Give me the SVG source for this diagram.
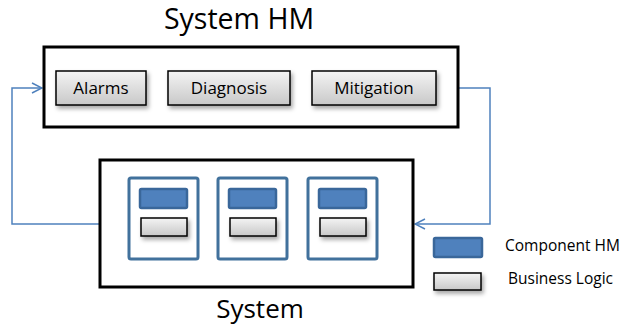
<svg xmlns="http://www.w3.org/2000/svg" width="631" height="326" viewBox="0 0 631 326">
<defs>
<linearGradient id="gray" x1="0" y1="0" x2="0" y2="1">
<stop offset="0" stop-color="#f4f4f4"/><stop offset="1" stop-color="#c8c8c8"/>
</linearGradient>
<filter id="sh" x="-20%" y="-20%" width="150%" height="180%">
<feDropShadow dx="2" dy="3" stdDeviation="2" flood-color="#000" flood-opacity="0.35"/>
</filter>
<marker id="arr" markerWidth="12" markerHeight="12" refX="11" refY="6" orient="auto" markerUnits="userSpaceOnUse">
<path d="M1,1 L11,6 L1,11" fill="none" stroke="#4F81BD" stroke-width="1.5"/>
</marker>
</defs>
<style>
.frame{fill:#fff;stroke:#000;stroke-width:3}
.btn{fill:url(#gray);stroke:#000;stroke-width:1.5;filter:url(#sh)}
.comp{fill:#fff;stroke:#41719C;stroke-width:3}
.hm{fill:#4F81BD;stroke:#3A679A;stroke-width:2.5}
.conn{fill:none;stroke:#4F81BD;stroke-width:1.5}
.t{font-family:"Open Sans","Liberation Sans",sans-serif;fill:#000}
</style>
<g id="title-hm"><text class="t" x="239" y="29" font-size="28.5" text-anchor="middle">System HM</text></g>
<g id="connectors">
<path class="conn" d="M100,224 L12,224 L12,88 L42,88" marker-end="url(#arr)"/>
<path class="conn" d="M459,88 L490,88 L490,224 L415,224" marker-end="url(#arr)"/>
<path class="conn" d="M198,218 L218,218"/>
<path class="conn" d="M287,218 L308,218"/>
</g>
<g id="system-hm"><rect class="frame" x="44" y="47" width="414" height="80"/></g>
<g id="alarms"><rect class="btn" x="56" y="71" width="90" height="34"/><text class="t" x="101" y="94" font-size="17" text-anchor="middle">Alarms</text></g>
<g id="diagnosis"><rect class="btn" x="168" y="71" width="122" height="34"/><text class="t" x="229" y="94" font-size="17" text-anchor="middle">Diagnosis</text></g>
<g id="mitigation"><rect class="btn" x="312" y="71" width="124" height="34"/><text class="t" x="374" y="94" font-size="17" text-anchor="middle">Mitigation</text></g>
<g id="system"><rect class="frame" x="100" y="160" width="313" height="127"/></g>
<g id="comp1"><rect class="comp" x="129" y="178" width="69" height="81" rx="2"/><rect class="hm" x="140" y="189" width="47" height="19" rx="1.5"/><rect class="btn" x="141" y="218" width="46" height="18"/></g>
<g id="comp2"><rect class="comp" x="218" y="178" width="69" height="81" rx="2"/><rect class="hm" x="229" y="189" width="47" height="19" rx="1.5"/><rect class="btn" x="230" y="218" width="46" height="18"/></g>
<g id="comp3"><rect class="comp" x="308" y="178" width="69" height="81" rx="2"/><rect class="hm" x="319" y="189" width="47" height="19" rx="1.5"/><rect class="btn" x="320" y="218" width="46" height="18"/></g>
<g id="title-system"><text class="t" x="260" y="318" font-size="26" text-anchor="middle">System</text></g>
<g id="legend-hm"><rect class="hm" x="434" y="238" width="48" height="19" rx="1.5"/><text class="t" x="505" y="251" font-size="15.5">Component HM</text></g>
<g id="legend-bl"><rect class="btn" x="434" y="273" width="47" height="17"/><text class="t" x="508" y="284" font-size="15.5">Business Logic</text></g>
</svg>
